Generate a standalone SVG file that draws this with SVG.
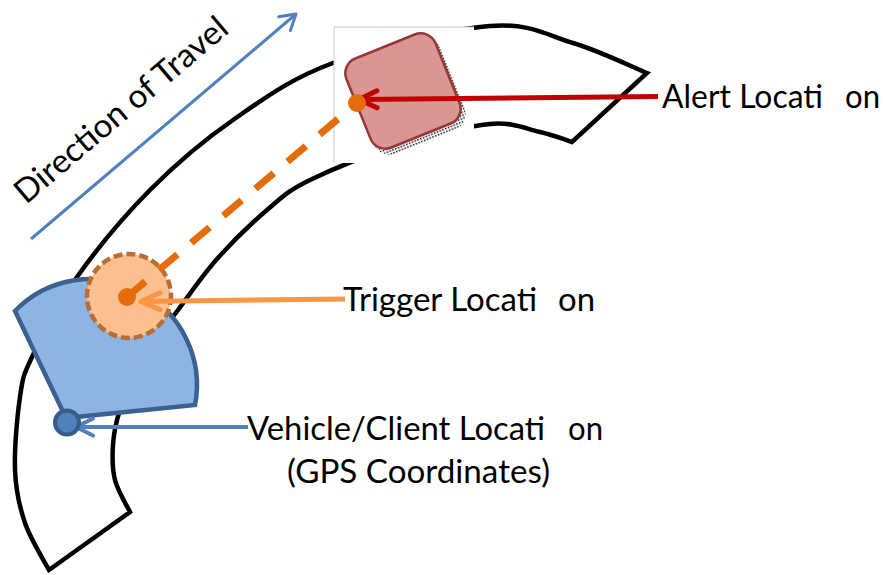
<svg xmlns="http://www.w3.org/2000/svg" width="883" height="575" viewBox="0 0 883 575">
<defs>
<style>
.lbl{font-family:Lato,"Open Sans","Liberation Sans",sans-serif;font-size:33px;fill:#000}
.road{fill:#fff;stroke:#000;stroke-width:4.5;stroke-linejoin:miter}
</style>
<pattern id="stip" width="3" height="3" patternUnits="userSpaceOnUse"><rect width="1.5" height="1.5" fill="#000"/></pattern>
<marker id="ahRed" markerUnits="userSpaceOnUse" markerWidth="40" markerHeight="40" viewBox="-25 -20 40 40" refX="0" refY="0" orient="auto" overflow="visible"><path d="M-18,-8.5 L0,0 L-18,8.5" fill="none" stroke="#c00000" stroke-width="5" stroke-linecap="round" stroke-linejoin="round"/></marker>
<marker id="ahOrange" markerUnits="userSpaceOnUse" markerWidth="40" markerHeight="40" viewBox="-25 -20 40 40" refX="0" refY="0" orient="auto" overflow="visible"><path d="M-19,-8.5 L0,0 L-19,8.5" fill="none" stroke="#f79646" stroke-width="5" stroke-linecap="round" stroke-linejoin="round"/></marker>
<marker id="ahBlue" markerUnits="userSpaceOnUse" markerWidth="40" markerHeight="40" viewBox="-25 -20 40 40" refX="0" refY="0" orient="auto" overflow="visible"><path d="M-17,-8.5 L0,0 L-17,8.5" fill="none" stroke="#4f81bd" stroke-width="4" stroke-linecap="round" stroke-linejoin="round"/></marker>
<marker id="ahDir" markerUnits="userSpaceOnUse" markerWidth="40" markerHeight="40" viewBox="-25 -20 40 40" refX="0" refY="0" orient="auto" overflow="visible"><path d="M-15,-9 L0,0 L-15,9" fill="none" stroke="#4f81bd" stroke-width="3" stroke-linecap="round" stroke-linejoin="round"/></marker>
</defs>
<rect width="883" height="575" fill="#fff"/>

<g id="road">
<path class="road" d="M49,570 C45,562.2 30.7,539.7 25,523 C19.3,506.3 15.8,491 15,470 C14.2,449 17.2,415.8 20,397 C22.8,378.2 22.5,377 32,357 C41.5,337 57.3,304.8 77,277 C96.7,249.2 124,216.2 150,190 C176,163.8 202.5,141.2 233,120 C263.5,98.8 290.2,78.7 333,63 C375.8,47.3 450,29.3 490,26 C530,22.7 546.8,35.2 573,43 C599.2,50.8 634.7,68 647,73 L572,142 C566.7,140.3 553.7,135 540,132 C526.3,129 513.3,121.8 490,124 C466.7,126.2 430,135.7 400,145 C370,154.3 332.2,169.2 310,180 C287.8,190.8 282.5,196.8 267,210 C251.5,223.2 231.8,242.3 217,259 C202.2,275.7 190.3,293.5 178,310 C165.7,326.5 152.7,341.3 143,358 C133.3,374.7 125,395.5 120,410 C115,424.5 113.8,433.3 113,445 C112.2,456.7 112.2,468.8 115,480 C117.8,491.2 127.5,506.7 130,512 Z"/>
</g>

<g id="alert-location">
<rect x="334" y="27" width="140" height="136" fill="#fff"/>
<path d="M334,163 V27 H474" fill="none" stroke="#c8c8c8" stroke-width="1"/>
<g transform="translate(4,5)"><rect x="354" y="42" width="98" height="98" rx="17" transform="rotate(-22 403 91)" fill="url(#stip)"/></g>
<rect x="355" y="43" width="96" height="96" rx="16" transform="rotate(-22 403 91)" fill="#d99694" stroke="#953735" stroke-width="2.5"/>
</g>

<g id="vehicle-zone">
<path d="M66,418 L15,311 A106,106 0 0 1 195,405 Z" fill="#8eb4e3" stroke="#3b6190" stroke-width="4.5" stroke-linejoin="miter"/>
</g>

<g id="trigger-location">
<circle cx="129" cy="296" r="42" fill="#fac08f" stroke="#b86e33" stroke-width="4.5" stroke-dasharray="9 4"/>
</g>

<g id="connectors">
<line x1="127" y1="297" x2="357" y2="103" stroke="#e46c0a" stroke-width="7" stroke-dasharray="24 18"/>
<line x1="658" y1="96.5" x2="359" y2="99.5" stroke="#c00000" stroke-width="5" marker-end="url(#ahRed)"/>
<line x1="345" y1="299" x2="141" y2="301.5" stroke="#f79646" stroke-width="5" marker-end="url(#ahOrange)"/>
<line x1="248" y1="427" x2="76" y2="427" stroke="#4f81bd" stroke-width="4" marker-end="url(#ahBlue)"/>
<line x1="31" y1="239" x2="296" y2="14" stroke="#4f81bd" stroke-width="3" marker-end="url(#ahDir)"/>
</g>

<g id="points">
<circle cx="127" cy="297" r="9" fill="#e46c0a"/>
<circle cx="357" cy="103" r="9" fill="#e46c0a"/>
<circle cx="67" cy="422.5" r="12" fill="#4f81bd" stroke="#385d8a" stroke-width="4"/>
</g>

<g id="labels">
<text class="lbl" y="108"><tspan x="662" textLength="161" lengthAdjust="spacingAndGlyphs">Alert Locati</tspan> <tspan x="845" textLength="35" lengthAdjust="spacingAndGlyphs">on</tspan></text>
<text class="lbl" y="311"><tspan x="343" textLength="194" lengthAdjust="spacingAndGlyphs">Trigger Locati</tspan> <tspan x="558" textLength="37" lengthAdjust="spacingAndGlyphs">on</tspan></text>
<text class="lbl" y="439.5"><tspan x="247" textLength="298" lengthAdjust="spacingAndGlyphs">Vehicle/Client Locati</tspan> <tspan x="568" textLength="35" lengthAdjust="spacingAndGlyphs">on</tspan></text>
<text class="lbl" x="287" y="483" textLength="263" lengthAdjust="spacingAndGlyphs">(GPS Coordinates)</text>
<text class="lbl" transform="translate(26 205) rotate(-40.3)" x="0" y="0" textLength="268" lengthAdjust="spacingAndGlyphs">Direction of Travel</text>
</g>
</svg>
